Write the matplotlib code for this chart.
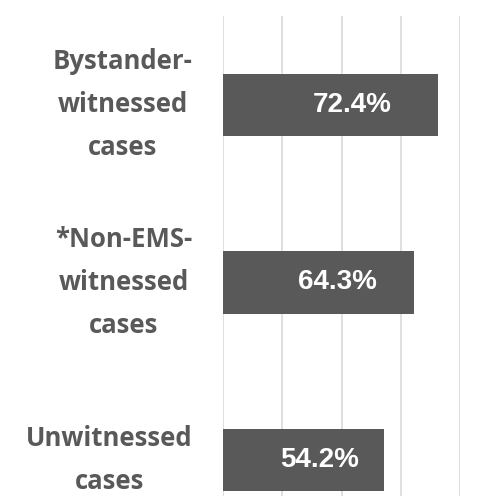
import matplotlib.pyplot as plt

# Datos del grafico
categorias = ["Bystander-\nwitnessed\ncases", "*Non-EMS-\nwitnessed\ncases", "Unwitnessed\ncases"]
valores = [72.4, 64.3, 54.2]
etiquetas = ["72.4%", "64.3%", "54.2%"]

gris = "#595959"

fig = plt.figure(figsize=(4.85, 4.96), dpi=100)
# el grafico original esta recortado por abajo
ax = fig.add_axes([0.46, -0.107, 0.489, 1.075])

pos = list(range(len(categorias)))
ax.barh(pos, valores, height=0.35, color=gris, zorder=3)

for p, v, t in zip(pos, valores, etiquetas):
    ax.text(v * 0.6, p, t, ha="center", va="center", color="white",
            fontsize=20, fontweight="bold", family="Liberation Sans", zorder=4)

ax.set_xlim(0, 80)
ax.set_ylim(2.5, -0.5)
ax.set_xticks([0, 20, 40, 60, 80])
ax.xaxis.grid(True, color="#d9d9d9", linewidth=1.2, zorder=0)
ax.tick_params(axis="x", length=0, labelbottom=False)
ax.tick_params(axis="y", length=0, pad=22)
ax.set_yticks(pos)
ax.set_yticklabels(categorias, fontsize=18.5, fontweight="bold", family="Open Sans", color=gris)
for lbl in ax.get_yticklabels():
    lbl.set_multialignment("center")
    lbl.set_linespacing(1.77)
    lbl.set_verticalalignment("center")

for s in ax.spines.values():
    s.set_visible(False)

fig.savefig("out.png", dpi=100)
